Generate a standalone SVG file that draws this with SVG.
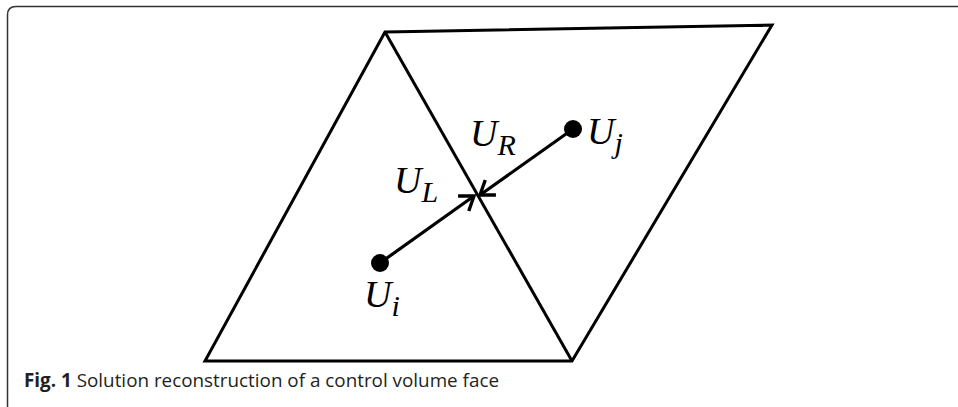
<svg xmlns="http://www.w3.org/2000/svg" width="958" height="407" viewBox="0 0 958 407">
<style>
.edge{fill:none;stroke:#000;stroke-width:3;stroke-linejoin:miter}
.conn{fill:none;stroke:#000;stroke-width:3.2}
.var{font-family:"Liberation Serif","Times New Roman",serif;font-style:italic;font-size:38px;fill:#000}
.sub{font-size:30px}
.cap{font-family:"Open Sans","Liberation Sans",sans-serif;font-size:19px;fill:#231f20}
</style>
<defs>
<marker id="ah" viewBox="-2 -12 18 24" refX="13" refY="0" markerWidth="18" markerHeight="24" markerUnits="userSpaceOnUse" orient="auto">
<path d="M0,-9.2 L13,0 L0,9.2" fill="none" stroke="#000" stroke-width="3.4" stroke-linejoin="miter"/>
</marker>
</defs>
<rect width="958" height="407" fill="#fff"/>
<path d="M7.5,407 V15 Q7.5,6.5 16,6.5 H958" fill="none" stroke="#333" stroke-width="1.5"/>
<g id="mesh">
<polygon class="edge" points="385,32 772,25 572,361 205,361"/>
<line class="edge" x1="385" y1="32" x2="572" y2="361"/>
</g>
<g id="connectors">
<line class="conn" x1="380" y1="263" x2="474" y2="196" marker-end="url(#ah)"/>
<line class="conn" x1="573" y1="129" x2="480" y2="195" marker-end="url(#ah)"/>
</g>
<g id="node-Ui">
<circle cx="380" cy="263" r="9" fill="#000"/>
<text class="var" x="364" y="307">U<tspan class="sub" dy="9">i</tspan></text>
</g>
<g id="node-Uj">
<circle cx="573" cy="129" r="9" fill="#000"/>
<text class="var" x="587" y="144">U<tspan class="sub" dy="9">j</tspan></text>
</g>
<g id="label-UL">
<text class="var" x="394" y="193">U<tspan class="sub" dy="9">L</tspan></text>
</g>
<g id="label-UR">
<text class="var" x="470" y="146">U<tspan class="sub" dy="9">R</tspan></text>
</g>
<text class="cap" x="24" y="387" textLength="475" lengthAdjust="spacingAndGlyphs"><tspan font-weight="bold">Fig. 1</tspan> Solution reconstruction of a control volume face</text>
</svg>
